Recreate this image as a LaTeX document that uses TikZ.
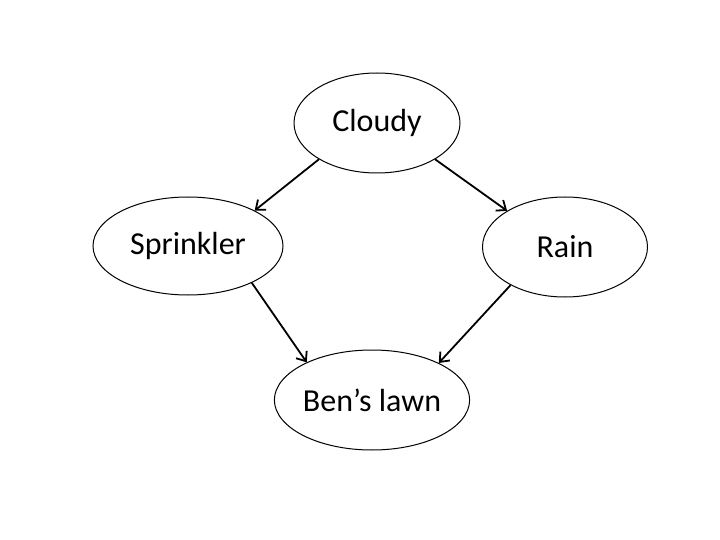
\documentclass[tikz,border=0pt]{standalone}
\usepackage{fontspec}
\setmainfont{Carlito}
\usetikzlibrary{shapes.geometric, arrows.meta}

\begin{document}
\begin{tikzpicture}[x=1pt, y=-1pt,
      var/.style={draw, ellipse, inner sep=0pt, line width=1pt,
          font=\fontsize{32}{38}\selectfont},
      arr/.style={-{Straight Barb[length=8pt, width=13pt]}, line width=1.8pt},
    ]
    \useasboundingbox (0,0) rectangle (720,540);

    % Variables
    \node[var, minimum width=166pt, minimum height=100pt] (cloudy) at (377,123) {Cloudy};
    \node[var, minimum width=190pt, minimum height=98pt] (sprinkler) at (188,246) {Sprinkler};
    \node[var, minimum width=165pt, minimum height=100pt] (rain) at (565,247) {Rain};
    \node[var, minimum width=182pt, minimum height=100pt] (lawn) at (372,400) {Ben’s lawn};

    % Dependencies
    \draw[arr] (cloudy.212) -- (sprinkler.28);
    \draw[arr] (cloudy.328) -- (rain.148);
    \draw[arr] (sprinkler.330) -- (lawn.150);
    \draw[arr] (rain.215) -- (lawn.29);
  \end{tikzpicture}
\end{document}
